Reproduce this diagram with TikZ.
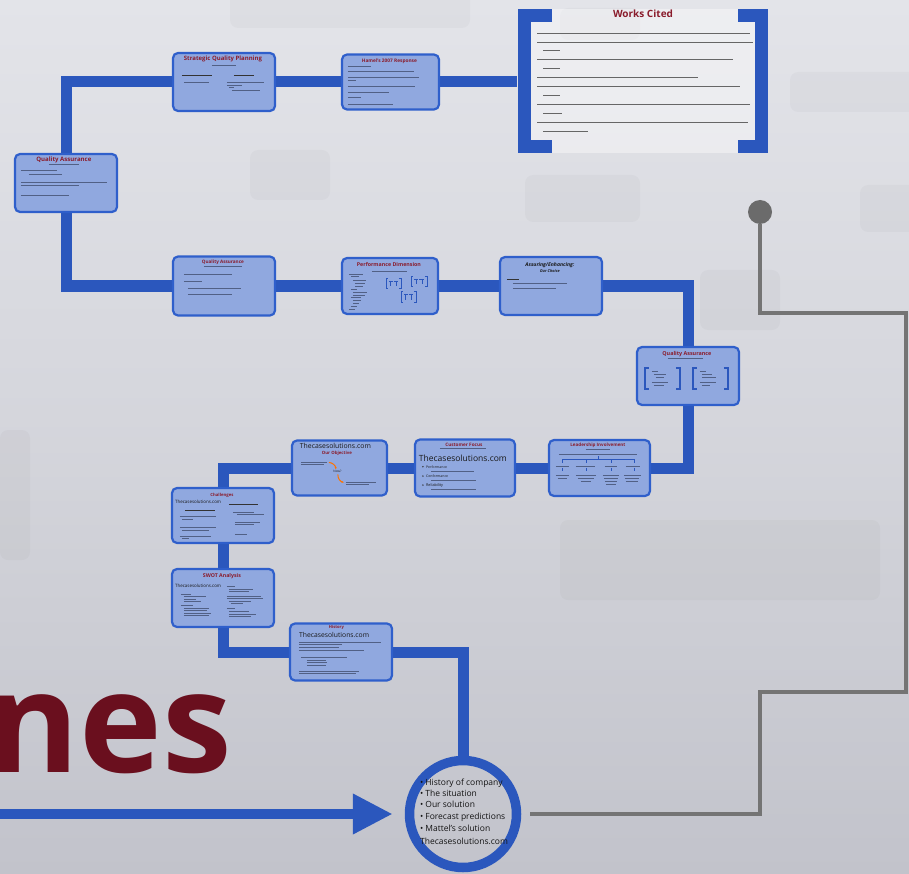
\documentclass[tikz,border=0pt]{standalone}
\usepackage{fontspec}
\setmainfont{Open Sans}
\usepackage{graphicx}
\usetikzlibrary{arrows.meta,backgrounds}
\pgfdeclarelayer{bgzero}
\pgfsetlayers{bgzero,background,main}
\definecolor{pblue}{HTML}{2B57BD}
\definecolor{boxfill}{HTML}{90A8DF}
\definecolor{boxline}{HTML}{2F5FCB}
\definecolor{tred}{HTML}{8A1C2C}
\definecolor{bigred}{HTML}{6A0F1E}
\definecolor{gline}{HTML}{747474}
\definecolor{txtc}{HTML}{3C4868}
\definecolor{bgtop}{HTML}{E3E4E9}
\definecolor{bgbot}{HTML}{C2C3CB}
\newcommand{\fitw}[2]{\resizebox{#1pt}{!}{#2}}
\newcommand{\tln}[3]{\draw[tl] (#1,#3) -- (#2,#3);}
\newcommand{\thk}[3]{\draw[tlk] (#1,#3) -- (#2,#3);}
\newcommand{\minibr}[4]{%
  \draw[pblue, line width=0.7pt] (#1+2,#2) -- (#1,#2) -- (#1,#2+#4) -- (#1+2,#2+#4);
  \draw[pblue, line width=0.7pt] (#1+#3-2,#2) -- (#1+#3,#2) -- (#1+#3,#2+#4) -- (#1+#3-2,#2+#4);
  \draw[pblue, line width=0.6pt] (#1+3,#2+3) -- (#1+#3/2-0.5,#2+3) (#1+#3/2+0.5,#2+3) -- (#1+#3-3,#2+3)
     (#1+#3/4+1,#2+3) -- (#1+#3/4+1,#2+#4-2) (#1+3*#3/4-1,#2+3) -- (#1+3*#3/4-1,#2+#4-2);}
\tikzset{
  qbox/.style={draw=boxline, line width=2.2pt, fill=boxfill, rounded corners=5pt, inner sep=0pt},
  pline/.style={pblue, line width=11pt, line join=miter},
  gpath/.style={gline, line width=4pt, line join=miter},
  tl/.style={txtc, opacity=0.75, line width=0.65pt},
  tlk/.style={black!80, line width=1pt},
  ttl/.style={inner sep=0pt, text=tred, font=\bfseries},
  btx/.style={inner sep=0pt, text=black!90},
  ctx/.style={inner sep=0pt, text=black!92, font=\fontsize{8.5}{10}\selectfont, anchor=base west},
  blob/.style={fill=black, opacity=0.022, rounded corners=8pt}
}
\begin{document}
\begin{tikzpicture}[x=1pt,y=-1pt]
\useasboundingbox (0,0) rectangle (909,874);
\begin{pgfonlayer}{bgzero}
  \shade[top color=bgtop, bottom color=bgbot, middle color=bgtop!55!bgbot] (0,0) rectangle (909,874);
  \fill[blob] (230,-10) rectangle (470,28);
  \fill[blob] (560,8) rectangle (640,40);
  \fill[blob] (790,72) rectangle (920,112);
  \fill[blob] (525,175) rectangle (640,222);
  \fill[blob] (860,185) rectangle (920,232);
  \fill[blob] (250,150) rectangle (330,200);
  \fill[blob] (0,430) rectangle (30,560);
  \fill[blob] (560,520) rectangle (880,600);
  \fill[blob] (700,270) rectangle (780,330);
  \fill[white, opacity=0.4] (531,9) rectangle (755,153);
\end{pgfonlayer}

% big lettering
\begin{scope}
  \clip (0,0) rectangle (909,874);
  \node[text=bigred, font=\fontsize{140}{140}\selectfont\bfseries, anchor=base east, inner sep=0pt] (nes) at (232,772) {nes};
\end{scope}

% boxes
\node[qbox, minimum width=102pt, minimum height=58pt] (qa1) at (66,183) {};
\node[qbox, minimum width=102pt, minimum height=58pt] (sqp) at (224,82) {};
\node[qbox, minimum width=97pt, minimum height=55pt] (hamel) at (390.5,82) {};
\node[qbox, minimum width=102pt, minimum height=59pt] (qa2) at (224,286) {};
\node[qbox, minimum width=96pt, minimum height=56pt] (perf) at (390,286) {};
\node[qbox, minimum width=102pt, minimum height=58pt] (assur) at (551,286) {};
\node[qbox, minimum width=102pt, minimum height=58pt] (qa3) at (688,376) {};
\node[qbox, minimum width=101pt, minimum height=56pt] (lead) at (599.5,468) {};
\node[qbox, minimum width=100pt, minimum height=57pt] (cust) at (465,468) {};
\node[qbox, minimum width=95pt, minimum height=55pt] (tcs) at (339.5,468) {};
\node[qbox, minimum width=102pt, minimum height=55pt] (chal) at (223,515.5) {};
\node[qbox, minimum width=102pt, minimum height=58pt] (swot) at (223,598) {};
\node[qbox, minimum width=102pt, minimum height=57pt] (hist) at (341,652) {};
\node[circle, draw=pblue, line width=9.5pt, minimum size=107pt, inner sep=0pt] (circ) at (463,814) {};
\node[circle, fill=gline!92!black, minimum size=24pt, inner sep=0pt] (dot) at (760,212) {};
\coordinate (wcl) at (517,82);
\coordinate (astart) at (-10,814);
\coordinate (gstart) at ([xshift=9pt]circ.east);
\coordinate (gA) at (760,692);
\coordinate (gB) at (906,692);
\coordinate (gC) at (906,313);
\coordinate (gD) at (760,313);

% connectors
\begin{pgfonlayer}{background}
  \draw[pline] (qa1.north) |- (sqp.west);
  \draw[pline] (sqp.east) -- (hamel.west);
  \draw[pline] (hamel.east) -- (wcl);
  \draw[pline] (qa1.south) |- (qa2.west);
  \draw[pline] (qa2.east) -- (perf.west);
  \draw[pline] (perf.east) -- (assur.west);
  \draw[pline] (assur.east) -| (qa3.north);
  \draw[pline] (qa3.south) |- (lead.east);
  \draw[pline] (lead.west) -- (cust.east);
  \draw[pline] (cust.west) -- (tcs.east);
  \draw[pline] (tcs.west) -| (chal.north);
  \draw[pline] (chal.south) -- (swot.north);
  \draw[pline] (swot.south) |- (hist.west);
  \draw[pline] (hist.east) -| (circ.north);
  \draw[gpath] (gstart) -| (gA) -- (gB) -- (gC) -- (gD) -- (dot);
\end{pgfonlayer}
\draw[pblue, line width=10pt, -{Triangle[length=40pt,width=38pt]}] (astart) -- ([xshift=-12pt]circ.west);

% works cited
\draw[pblue, line width=13pt, line join=miter] (552,15.5) -- (524,15.5) -- (524,146.5) -- (552,146.5);
\draw[pblue, line width=13pt, line join=miter] (738,15.5) -- (761.5,15.5) -- (761.5,146.5) -- (738,146.5);
\node[ttl] (wct) at (643,14) {\fitw{60}{Works Cited}};
\begin{scope}[tl/.style={black!60, line width=0.6pt}]
\tln{537}{750}{33}
\tln{537}{753}{42} \tln{543}{560}{50}
\tln{537}{733}{59} \tln{543}{560}{68}
\tln{537}{698}{77}
\tln{537}{740}{86} \tln{543}{560}{95}
\tln{537}{750}{104} \tln{543}{562}{113}
\tln{537}{748}{122} \tln{543}{588}{131}
\end{scope}

% contents: Quality Assurance (left)
\begin{scope}[shift={(qa1.north west)}]
  \node[ttl] at (50,6.7) {\fitw{55}{Quality Assurance}};
  \tln{35}{65}{11.7}
  \tln{7}{43}{17.7} \tln{15}{48}{21}
  \tln{7}{93}{29.3} \tln{7}{65}{32.7}
  \tln{7}{55}{42.7}
\end{scope}

% Strategic Quality Planning
\begin{scope}[shift={(sqp.north west)}]
  \node[ttl] at (51,7.5) {\fitw{78}{Strategic Quality Planning}};
  \tln{40}{64}{13}
  \thk{10}{40}{23.5} \tln{12}{37}{30.5}
  \thk{62}{82}{23.5}
  \tln{55}{92}{30} \tln{55}{70}{33} \tln{57}{62}{35.7} \tln{60}{88}{38.7}
\end{scope}

% Hamel
\begin{scope}[shift={(hamel.north west)}]
  \node[ttl] at (48.5,8) {\fitw{55}{Hamel's 2007 Response}};
  \tln{7}{30}{12.7} \tln{7}{73}{18.3} \tln{7}{78}{24} \tln{7}{15}{27.3}
  \tln{7}{74}{33.3} \tln{7}{48}{39} \tln{7}{20}{44.3} \tln{7}{52}{50.7}
\end{scope}

% Quality Assurance (2)
\begin{scope}[shift={(qa2.north west)}]
  \node[ttl] at (51,7) {\fitw{42}{Quality Assurance}};
  \tln{32}{70}{11.3}
  \tln{12}{60}{19} \tln{12}{30}{26.3} \tln{16}{69}{33.3} \tln{16}{60}{39}
\end{scope}

% Performance Dimension
\begin{scope}[shift={(perf.north west)}]
  \node[ttl] at (48,8) {\fitw{64}{Performance Dimension}};
  \tln{31}{66}{14}
  \begin{scope}[tl/.style={txtc, opacity=0.75, line width=0.55pt}]
  \tln{8}{22}{17} \tln{10}{18}{19.7} \tln{12}{25}{23.7} \tln{14}{24}{26.3}
  \tln{14}{22}{29} \tln{10}{16}{32.3} \tln{12}{26}{35} \tln{12}{24}{38}
  \tln{10}{20}{40.3} \tln{12}{20}{43} \tln{12}{18}{46.3} \tln{10}{16}{49} \tln{8}{14}{52.3}
  \end{scope}
  \minibr{45}{21}{15}{10}
  \minibr{70}{19}{16}{10.5}
  \minibr{60}{34}{15}{11.5}
\end{scope}

% Assuring / Enhancing
\begin{scope}[shift={(assur.north west)}]
  \node[btx, font=\bfseries\itshape] at (51,9) {\fitw{49}{Assuring/Enhancing:}};
  \node[btx, font=\bfseries\itshape] at (51,14.7) {\fitw{20}{Our Choice}};
  \thk{8}{20}{23.3}
  \tln{14}{68}{27.3} \tln{14}{57}{32.3}
\end{scope}

% Quality Assurance (3)
\begin{scope}[shift={(qa3.north west)}]
  \node[ttl] at (51,8) {\fitw{49}{Quality Assurance}};
  \tln{32}{67}{12}
  \draw[pblue, line width=2.4pt] (13,22) -- (9,22) -- (9,43) -- (13,43);
  \draw[pblue, line width=2.4pt] (40,22) -- (44,22) -- (44,43) -- (40,43);
  \draw[pblue, line width=2.4pt] (61,22) -- (57,22) -- (57,43) -- (61,43);
  \draw[pblue, line width=2.4pt] (88,22) -- (92,22) -- (92,43) -- (88,43);
  \begin{scope}[tl/.style={txtc, opacity=0.75, line width=0.55pt}]
  \tln{16}{22}{25} \tln{18}{30}{28} \tln{20}{28}{31} \tln{16}{32}{36} \tln{18}{28}{39}
  \tln{64}{70}{25} \tln{66}{76}{28} \tln{66}{80}{31} \tln{64}{80}{36} \tln{66}{74}{39}
  \end{scope}
\end{scope}

% Leadership Involvement
\begin{scope}[shift={(lead.north west)}]
  \node[ttl] at (50,6.3) {\fitw{55}{Leadership Involvement}};
  \tln{38}{62}{10.3}
  \tln{11}{89}{15.3}
  \draw[pblue, line width=0.8pt] (50,17.5) -- (50,20.3) (14,24) -- (14,20.3) -- (86,20.3) -- (86,24)
    (38,20.3) -- (38,24) (63,20.3) -- (63,24);
  \begin{scope}[tl/.style={txtc, opacity=0.75, line width=0.55pt}]
  \tln{8}{21}{27} \tln{28}{47}{27} \tln{57}{69}{27} \tln{78}{92}{27}
  \draw[pblue, line width=0.6pt] (14,29) -- (14,32.5) (38,29) -- (38,32.5) (63,29) -- (63,32.5) (86,29) -- (86,32.5);
  \tln{8}{21}{36} \tln{28}{48}{36} \tln{55}{71}{36} \tln{76}{93}{36}
  \tln{10}{19}{39} \tln{30}{46}{39} \tln{56}{70}{39} \tln{77}{91}{39}
  \tln{33}{43}{42} \tln{57}{69}{42} \tln{78}{90}{42}
  \tln{58}{68}{45}
  \end{scope}
\end{scope}

% Customer Focus
\begin{scope}[shift={(cust.north west)}]
  \node[ttl] at (50,6) {\fitw{37}{Customer Focus}};
  \tln{26}{72}{10}
  \node[btx] at (49,20) {\fitw{88}{Thecasesolutions.com}};
  \fill[black!80] (9,28.3) circle (0.8) (9,37.7) circle (0.8) (9,46.7) circle (0.8);
  \node[btx, anchor=west] at (12,28.3) {\fitw{21}{Performance}};
  \tln{17}{60}{33.3}
  \node[btx, anchor=west] at (12,37.7) {\fitw{22}{Conformance}};
  \tln{17}{62}{42.3}
  \node[btx, anchor=west] at (12,46.7) {\fitw{17}{Reliability}};
  \tln{17}{62}{51}
\end{scope}

% Thecasesolutions.com : Our Objective
\begin{scope}[shift={(tcs.north west)}]
  \node[btx] at (44.5,6.7) {\fitw{71}{Thecasesolutions.com}};
  \node[ttl] at (46,14.3) {\fitw{30}{Our Objective}};
  \tln{10}{36}{22.7} \tln{10}{33}{25.3}
  \node[btx] at (46.5,32) {\fitw{8}{Now?}};
  \tln{55}{85}{42.7} \tln{55}{78}{45}
  \draw[orange!90!red, line width=1pt, -{Stealth[length=2.5pt]}] (38,23) to[bend left=40] (45,30);
  \draw[orange!90!red, line width=1pt, -{Stealth[length=2.5pt]}] (47,35) to[bend right=40] (53,43);
\end{scope}

% Challenges
\begin{scope}[shift={(chal.north west)}]
  \node[ttl] at (51,8.7) {\fitw{23}{Challenges}};
  \node[btx, anchor=west] at (4,15.3) {\fitw{46}{Thecasesolutions.com}};
  \thk{58}{87}{18} \thk{14}{44}{23.7}
  \tln{9}{45}{29.3} \tln{11}{22}{32}
  \tln{9}{45}{40.3} \tln{11}{38}{43}
  \tln{9}{40}{49} \tln{11}{18}{51.5}
  \tln{62}{83}{25} \tln{66}{93}{27.7}
  \tln{64}{89}{35} \tln{64}{83}{37.7}
  \tln{64}{76}{47.7}
\end{scope}

% SWOT
\begin{scope}[shift={(swot.north west)}]
  \node[ttl] at (51,8.7) {\fitw{38}{SWOT Analysis}};
  \node[btx, anchor=west] at (4,17.7) {\fitw{46}{Thecasesolutions.com}};
  \begin{scope}[tl/.style={txtc, opacity=0.75, line width=0.55pt}]
  \tln{10}{20}{26} \tln{13}{35}{28.5} \tln{13}{25}{31} \tln{13}{30}{33.5}
  \tln{10}{22}{37.3} \tln{13}{38}{40} \tln{13}{36}{42.5} \tln{13}{40}{45} \tln{13}{38}{47.5}
  \tln{56}{64}{18.3} \tln{58}{82}{21} \tln{58}{78}{23.6} \tln{56}{90}{28} \tln{56}{92}{30.5}
  \tln{58}{80}{33} \tln{60}{72}{35.5} \tln{56}{64}{40} \tln{58}{78}{43} \tln{58}{85}{46} \tln{58}{80}{48.5}
  \end{scope}
\end{scope}

% History
\begin{scope}[shift={(hist.north west)}]
  \node[ttl] at (47.5,5.5) {\fitw{15}{History}};
  \node[btx, anchor=west] at (10,13) {\fitw{70}{Thecasesolutions.com}};
  \begin{scope}[tl/.style={txtc, opacity=0.75, line width=0.55pt}]
  \tln{10}{92}{19.7} \tln{10}{53}{22} \tln{10}{50}{25.3} \tln{10}{75}{28}
  \tln{12}{58}{34.7} \tln{18}{37}{37.7} \tln{18}{38}{40.3} \tln{18}{37}{43}
  \tln{10}{70}{48.7} \tln{10}{67}{51.3}
  \end{scope}
\end{scope}

% circle contents
\node[ctx] (c1) at (420,785.3) {\textbullet\hspace{2pt}History of company};
\node[ctx] (c2) at (420,796.3) {\textbullet\hspace{2pt}The situation};
\node[ctx] (c3) at (420,807.3) {\textbullet\hspace{2pt}Our solution};
\node[ctx] (c4) at (420,819.7) {\textbullet\hspace{2pt}Forecast predictions};
\node[ctx] (c5) at (420,831.3) {\textbullet\hspace{2pt}Mattel's solution};
\node[ctx] (c6) at (420,844.7) {Thecasesolutions.com};
\end{tikzpicture}
\end{document}
